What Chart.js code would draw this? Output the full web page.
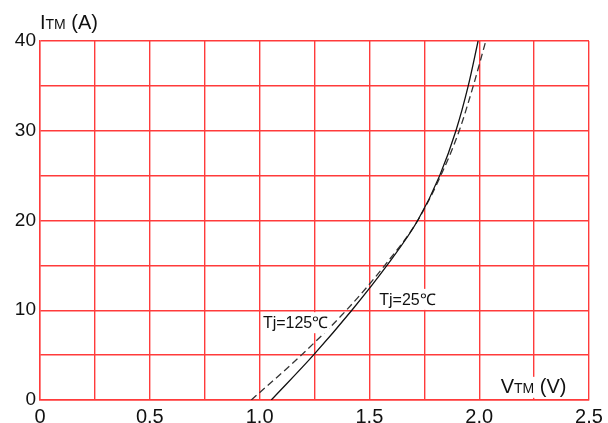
<!DOCTYPE html>
<html>
<head>
<meta charset="utf-8">
<script src="https://cdn.jsdelivr.net/npm/chart.js@4/dist/chart.umd.min.js"></script>
<style>
  html, body { margin: 0; padding: 0; background: #fff; }
  #wrap { width: 608px; height: 423px; }
</style>
</head>
<body>
<div id="wrap"><canvas id="vtmChart"></canvas></div>
<script>
// Datos (V en voltios, I en amperios)
const itm25 = [0, 5, 10, 15, 20, 25, 30, 35, 40];
const vtm25 = [1.053, 1.245, 1.42, 1.58, 1.72, 1.82, 1.894, 1.95, 1.995];

const itm125 = [0, 5, 10, 15, 20, 25, 30, 35, 40];
const vtm125 = [0.962, 1.19, 1.395, 1.57, 1.72, 1.825, 1.909, 1.973, 2.03];

// Etiquetas de los ejes
const xTickLabels = ['0', '0.5', '1.0', '1.5', '2.0', '2.5'];
const yTickLabels = ['0', '10', '20', '30', '40'];

const gridRed = '#ff3b3b';

function toPoints(xs, ys) {
    return xs.map((x, i) => ({ x: x, y: ys[i] }));
}

function pickLabel(list, v) {
    const hit = list.find(l => Math.abs(parseFloat(l) - v) < 1e-6);
    return hit === undefined ? '' : hit;
}

// Texto con fondo blanco (títulos de ejes y rótulos de curvas)
function boxedText(ctx, parts, x, y, pad) {
    let w = 0;
    parts.forEach(p => { ctx.font = p.font; w += ctx.measureText(p.text).width; });
    ctx.fillStyle = '#fff';
    ctx.fillRect(x - pad, y - 16, w + pad * 2, 21);
    ctx.fillStyle = '#111';
    ctx.textBaseline = 'alphabetic';
    ctx.textAlign = 'left';
    let cx = x;
    parts.forEach(p => {
        ctx.font = p.font;
        ctx.fillText(p.text, cx, y);
        cx += ctx.measureText(p.text).width;
    });
}

const labelsPlugin = {
    id: 'curveLabels',
    afterDatasetsDraw(chart) {
        const ctx = chart.ctx;
        const xs = chart.scales.x, ys = chart.scales.y;
        ctx.save();
        const small = '16px "Liberation Sans", Arial, sans-serif';
        boxedText(ctx, [{ text: 'Tj=125℃', font: small }],
            xs.getPixelForValue(1.015), ys.getPixelForValue(8.0), 1);
        boxedText(ctx, [{ text: 'Tj=25℃', font: small }],
            xs.getPixelForValue(1.545), ys.getPixelForValue(10.6), 1);
        const big = '20px "Liberation Sans", Arial, sans-serif';
        const sub = '14px "Liberation Sans", Arial, sans-serif';
        boxedText(ctx, [{ text: 'V', font: big }, { text: 'TM', font: sub }, { text: ' (V)', font: big }],
            xs.getPixelForValue(2.098), ys.getPixelForValue(0.8), 3);
        ctx.restore();
    },
    afterDraw(chart) {
        const ctx = chart.ctx;
        ctx.save();
        const big = '20px "Liberation Sans", Arial, sans-serif';
        const sub = '14px "Liberation Sans", Arial, sans-serif';
        const left = chart.chartArea.left;
        boxedText(ctx, [{ text: 'I', font: big }, { text: 'TM', font: sub }, { text: ' (A)', font: big }],
            left, 29, 0);
        ctx.restore();
    }
};

const vtmCtx = document.getElementById('vtmChart').getContext('2d');

new Chart(vtmCtx, {
    type: 'scatter',
    data: {
        datasets: [{
            label: 'Tj=25℃',
            data: toPoints(vtm25, itm25),
            showLine: true,
            borderColor: '#111',
            borderWidth: 1.3,
            pointRadius: 0,
            cubicInterpolationMode: 'monotone'
        }, {
            label: 'Tj=125℃',
            data: toPoints(vtm125, itm125),
            showLine: true,
            borderColor: '#333',
            borderWidth: 1.3,
            borderDash: [7, 4],
            pointRadius: 0,
            cubicInterpolationMode: 'monotone'
        }]
    },
    options: {
        responsive: true,
        maintainAspectRatio: false,
        animation: false,
        layout: { padding: { top: 41, right: 19, left: 0, bottom: 0 } },
        plugins: {
            legend: { display: false },
            tooltip: { enabled: false }
        },
        scales: {
            x: {
                type: 'linear',
                min: 0,
                max: 2.5,
                afterFit: s => { s.height = 23; },
                grid: { color: gridRed, lineWidth: 1.4, drawTicks: false },
                border: { color: gridRed, width: 1.4 },
                ticks: {
                    stepSize: 0.25,
                    autoSkip: false,
                    maxRotation: 0,
                    padding: 5,
                    color: '#111',
                    font: { family: '"Liberation Sans", Arial, sans-serif', size: 20 },
                    callback: v => pickLabel(xTickLabels, v)
                }
            },
            y: {
                type: 'linear',
                min: 0,
                max: 40,
                afterFit: s => { s.width = 40; },
                grid: { color: gridRed, lineWidth: 1.4, drawTicks: false },
                border: { color: gridRed, width: 1.4 },
                ticks: {
                    stepSize: 5,
                    autoSkip: false,
                    padding: 4,
                    color: '#111',
                    font: { family: '"Liberation Sans", Arial, sans-serif', size: 19 },
                    callback: v => pickLabel(yTickLabels, v)
                }
            }
        }
    },
    plugins: [labelsPlugin]
});
</script>
</body>
</html>
